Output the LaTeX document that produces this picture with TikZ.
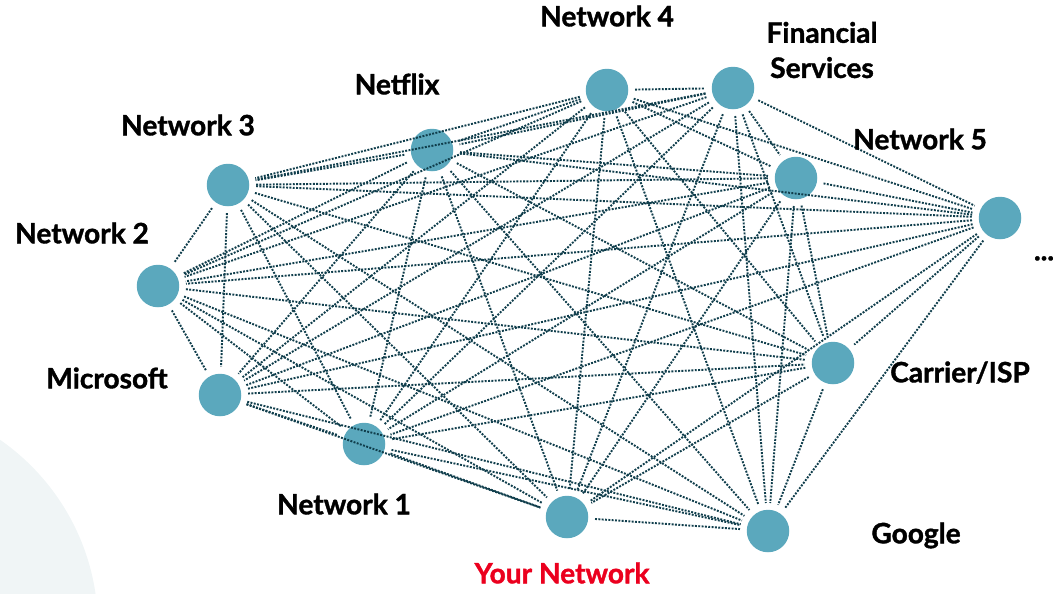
\documentclass[tikz,border=0pt]{standalone}
\usepackage{fontspec}
\setmainfont{Lato}[BoldFeatures={FakeBold=1.3}]
\definecolor{hubblue}{RGB}{91,168,189}
\definecolor{wireteal}{RGB}{16,62,76}
\definecolor{yoursred}{RGB}{235,0,30}
\definecolor{haze}{RGB}{240,245,246}

\begin{document}
\begin{tikzpicture}
	[x=0.02cm,y=-0.02cm,
	 peer/.style={circle,fill=hubblue,minimum size=0.85cm,inner sep=0pt},
	 tag/.style={font=\bfseries\fontsize{16}{20}\selectfont,align=center,inner sep=0pt},
	 capline/.style={text height=0.72em,text depth=0pt},
	 wire/.style={draw=wireteal,line width=1.1pt,dash pattern=on 1.1pt off 0.8pt,shorten >=0.13cm,shorten <=0.13cm}]
	\useasboundingbox (0,0) rectangle (1053,593);
	% soft disc in the corner
	\begin{scope}
		\clip (0,0) rectangle (1053,593);
		\fill[haze] (-130,627) circle (4.56cm);
	\end{scope}

	\node[peer] (n1) at (607,90) {};
	\node[peer] (n2) at (733,88) {};
	\node[peer] (n3) at (432,150) {};
	\node[peer] (n4) at (228,185) {};
	\node[peer] (n5) at (796,178) {};
	\node[peer] (n6) at (1000,218) {};
	\node[peer] (n7) at (158,286) {};
	\node[peer] (n8) at (220,395) {};
	\node[peer] (n9) at (833,363) {};
	\node[peer] (n10) at (364,444) {};
	\node[peer] (n11) at (567,517) {};
	\node[peer] (n12) at (768,531) {};

	% every peer talks to every other peer
	\foreach \i in {1,...,11}{
		\pgfmathtruncatemacro\nxt{\i+1}
		\foreach \k in {\nxt,...,12}
		\draw[wire] (n\i) -- (n\k);
	}

	\node[tag,capline] (t1) at (607,20) {Network 4};
	\node[tag] (t2) at (822,50) {Financial\\Services};
	\node[tag,capline] (t3) at (397,88) {Netflix};
	\node[tag,capline] (t4) at (188,129) {Network 3};
	\node[tag,capline] (t5) at (920,143) {Network 5};
	\node[tag,capline] (t6) at (1044,254) {...};
	\node[tag,capline] (t7) at (82,237) {Network 2};
	\node[tag,capline] (t8) at (107,382) {Microsoft};
	\node[tag,capline] (t9) at (960,376) {Carrier/ISP};
	\node[tag,capline] (t10) at (344,508) {Network 1};
	\node[tag,capline,text=yoursred] (t11) at (562,577) {Your Network};
	\node[tag,capline] (t12) at (916,537) {Google};
\end{tikzpicture}
\end{document}
